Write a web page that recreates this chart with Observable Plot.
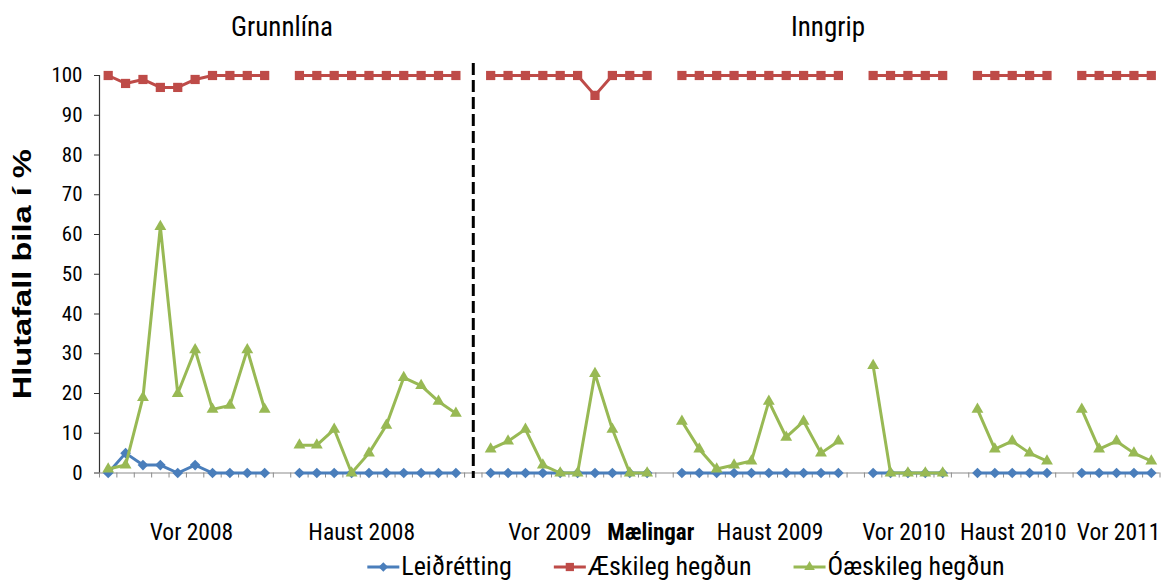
<!DOCTYPE html>
<html>
<head>
<meta charset="utf-8">
<script src="https://cdn.jsdelivr.net/npm/d3@7"></script>
<script src="https://cdn.jsdelivr.net/npm/@observablehq/plot@0.6"></script>
<style>
  html, body { margin: 0; padding: 0; background: #fff; }
  #chart { width: 1163px; height: 585px; }
</style>
</head>
<body>
<div id="chart"></div>
<script>
// ---------- data ----------
const periods = ["Vor 2008", "Haust 2008", "Vor 2009", "Haust 2009", "Vor 2010", "Haust 2010", "Vor 2011"];
const phaseNames = ["Grunnlína", "Inngrip"];
const periodPhase = [0, 0, 1, 1, 1, 1, 1];

const seriesNames = ["Leiðrétting", "Æskileg hegðun", "Óæskileg hegðun"];

const leidretting = [
  [0, 5, 2, 2, 0, 2, 0, 0, 0, 0],
  [0, 0, 0, 0, 0, 0, 0, 0, 0, 0],
  [0, 0, 0, 0, 0, 0, 0, 0, 0, 0],
  [0, 0, 0, 0, 0, 0, 0, 0, 0, 0],
  [0, 0, 0, 0, 0],
  [0, 0, 0, 0, 0],
  [0, 0, 0, 0, 0]
];
const aeskileg = [
  [100, 98, 99, 97, 97, 99, 100, 100, 100, 100],
  [100, 100, 100, 100, 100, 100, 100, 100, 100, 100],
  [100, 100, 100, 100, 100, 100, 95, 100, 100, 100],
  [100, 100, 100, 100, 100, 100, 100, 100, 100, 100],
  [100, 100, 100, 100, 100],
  [100, 100, 100, 100, 100],
  [100, 100, 100, 100, 100]
];
const oaeskileg = [
  [1, 2, 19, 62, 20, 31, 16, 17, 31, 16],
  [7, 7, 11, 0, 5, 12, 24, 22, 18, 15],
  [6, 8, 11, 2, 0, 0, 25, 11, 0, 0],
  [13, 6, 1, 2, 3, 18, 9, 13, 5, 8],
  [27, 0, 0, 0, 0],
  [16, 6, 8, 5, 3],
  [16, 6, 8, 5, 3]
];

const yTicks = [0, 10, 20, 30, 40, 50, 60, 70, 80, 90, 100];
const yTitle = "Hlutafall bila í %";
const xTitle = "Mælingar";

// ---------- styling ----------
const colors = ["#4a7ebb", "#be4b48", "#98b954"];
const symbols = ["diamond2", "square", "triangle"];
const radii = [4.8, 5.2, 4.4];
const periodLabelNudge = [5, -16, -19, 10, -4, 1, 2];
const phaseLabelNudge = [0, 7];
const narrow = "'Liberation Sans Narrow', 'Arial Narrow', 'Roboto Condensed', sans-serif";

// ---------- build rows (each period followed by one empty category slot) ----------
const seriesValues = [leidretting, aeskileg, oaeskileg];
const rows = [];
const periodStart = [];
const periodCenter = [];
let slot = 0;
periods.forEach((p, gi) => {
  const n = aeskileg[gi].length;
  periodStart.push(slot);
  periodCenter.push(slot + (n - 1) / 2);
  seriesValues.forEach((vals, si) => {
    vals[gi].forEach((v, j) => rows.push({series: seriesNames[si], period: p, slot: slot + j, value: v}));
  });
  slot += n + 1;
});
const nSlots = slot - 1;
const boundaries = d3.range(-0.5, nSlots, 1);

const phaseFirst = phaseNames.map((_, k) => periodPhase.indexOf(k));
const phaseLast = phaseNames.map((_, k) => periodPhase.lastIndexOf(k));
const phaseCenter = phaseNames.map((_, k) =>
  (periodStart[phaseFirst[k]] + periodStart[phaseLast[k]] + aeskileg[phaseLast[k]].length - 1) / 2);
const separatorSlot = periodStart[phaseFirst[1]] - 1;

// ---------- marks ----------
const marks = [
  Plot.ruleY([0], {stroke: "#8c8c8c", strokeWidth: 1.2}),
  Plot.axisX({ticks: boundaries, tickFormat: () => "", tickSize: 5, stroke: "#8c8c8c", label: null}),
  Plot.ruleX([-0.5], {stroke: "#333", strokeWidth: 1.2}),
  Plot.axisY({ticks: yTicks, tickSize: 5, tickPadding: 12, label: null, fontSize: 21, stroke: "#333", fill: "black"}),
  Plot.ruleX([separatorSlot], {y1: 103, y2: -1.4, stroke: "black", strokeWidth: 3, strokeDasharray: "12,5"})
];

seriesNames.forEach((s, si) => {
  const d = rows.filter(r => r.series === s);
  marks.push(Plot.line(d, {x: "slot", y: "value", z: "period", stroke: colors[si], strokeWidth: 3}));
  marks.push(Plot.dot(d, {x: "slot", y: "value", symbol: symbols[si], r: radii[si], fill: colors[si], stroke: "none"}));
});

periods.forEach((p, i) => {
  marks.push(Plot.text([p], {x: () => periodCenter[i], text: d => d, frameAnchor: "bottom", lineAnchor: "bottom",
    dy: 66.5, dx: periodLabelNudge[i], fontSize: 23.5, fill: "black"}));
});
phaseNames.forEach((p, k) => {
  marks.push(Plot.text([p], {x: () => phaseCenter[k], text: d => d, frameAnchor: "top", lineAnchor: "bottom",
    dy: -40, dx: phaseLabelNudge[k], fontSize: 27, fill: "black"}));
});
marks.push(Plot.text([xTitle], {text: d => d, frameAnchor: "bottom", lineAnchor: "bottom", dy: 66.5, dx: 21,
  fontSize: 23, fontWeight: "bold", fill: "black"}));
marks.push(Plot.text([yTitle], {text: d => d, frameAnchor: "left", textAnchor: "start", dx: -77, dy: 125, rotate: -90,
  fontSize: 26, fontWeight: "bold", fill: "black", fontFamily: "'Liberation Sans', Arial, sans-serif"}));

const svg = Plot.plot({
  width: 1163,
  height: 585,
  marginLeft: 99,
  marginRight: 3.5,
  marginTop: 75,
  marginBottom: 112.5,
  x: {type: "linear", domain: [-0.5, nSlots - 0.5], axis: null},
  y: {domain: [0, 100], axis: null},
  style: {fontFamily: narrow, fontSize: "21px", color: "black", background: "white", overflow: "visible"},
  marks
});

// stretch the rotated y title along its length
d3.select(svg).selectAll("text").filter(function () { return this.textContent === yTitle; })
  .attr("textLength", 250).attr("lengthAdjust", "spacingAndGlyphs");

document.getElementById("chart").appendChild(svg);

// ---------- legend (below plot, inside the same svg) ----------
const legendCenterX = 686, legendLineY = 567, legendBaseline = 575;
const lineLen = 32, textGap = 2, itemGap = 42;
const lg = d3.select(svg).append("g").attr("aria-label", "legend").attr("text-anchor", "start");
const d3Symbols = {diamond2: d3.symbolDiamond2, square: d3.symbolSquare, triangle: d3.symbolTriangle};
const items = seriesNames.map((name, si) => {
  const g = lg.append("g");
  g.append("line").attr("x1", 0).attr("x2", lineLen).attr("y1", legendLineY).attr("y2", legendLineY)
    .attr("stroke", colors[si]).attr("stroke-width", 3);
  g.append("path").attr("d", d3.symbol(d3Symbols[symbols[si]], Math.PI * radii[si] * radii[si] * 0.8)())
    .attr("transform", `translate(${lineLen / 2},${legendLineY})`).attr("fill", colors[si]);
  const t = g.append("text").attr("x", lineLen + textGap).attr("y", legendBaseline)
    .attr("text-anchor", "start")
    .attr("font-family", narrow).attr("font-size", 26).attr("fill", "black").text(name);
  return {g, w: lineLen + textGap + t.node().getComputedTextLength()};
});
const total = d3.sum(items, d => d.w) + itemGap * (items.length - 1);
let cx = legendCenterX - total / 2;
items.forEach(it => { it.g.attr("transform", `translate(${cx},0)`); cx += it.w + itemGap; });
</script>
</body>
</html>
